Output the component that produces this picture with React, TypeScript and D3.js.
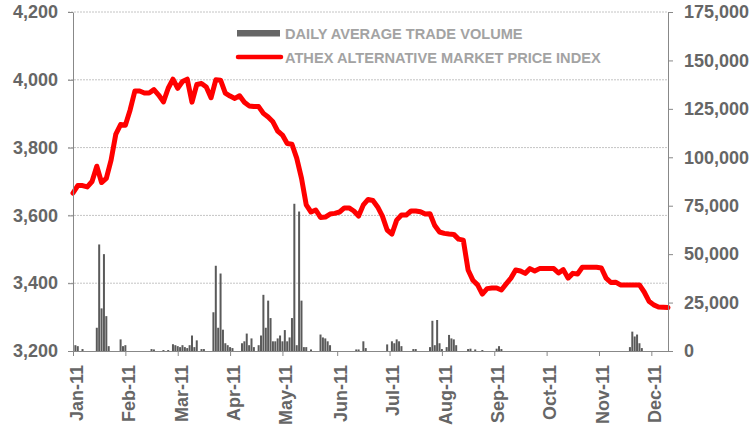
import React, { useRef, useEffect } from 'react';
import * as d3 from 'd3';

// tick labels and where each month starts (in trading days)
const months = ["Jan-11", "Feb-11", "Mar-11", "Apr-11", "May-11", "Jun-11", "Jul-11", "Aug-11", "Sep-11", "Oct-11", "Nov-11", "Dec-11"];
const monthStartDay = [0, 22, 44, 66, 88, 111, 133, 155, 177, 199, 221, 243];
const lastDay = 250;

const leftTicks = [3200, 3400, 3600, 3800, 4000, 4200];
const rightTicks = [0, 25000, 50000, 75000, 100000, 125000, 150000, 175000];

// price index, one reading every 2 trading days
const priceStep = 2;
const priceValues = [
  3666, 3688, 3688, 3684, 3700, 3745, 3697, 3709, 3763, 3840,
  3868, 3866, 3911, 3967, 3967, 3961, 3961, 3971, 3955, 3935,
  3975, 4002, 3975, 3995, 4002, 3934, 3986, 3989, 3979, 3947,
  4000, 3999, 3961, 3952, 3945, 3953, 3934, 3923, 3921, 3921,
  3901, 3890, 3876, 3849, 3837, 3812, 3810, 3769, 3710, 3631,
  3610, 3616, 3594, 3595, 3604, 3606, 3610, 3622, 3622, 3613,
  3598, 3631, 3647, 3644, 3625, 3598, 3557, 3545, 3586, 3601,
  3601, 3613, 3613, 3611, 3604, 3605, 3570, 3551, 3547, 3545,
  3544, 3530, 3527, 3439, 3409, 3395, 3368, 3384, 3386, 3386,
  3380, 3398, 3415, 3439, 3436, 3429, 3443, 3436, 3443, 3443,
  3443, 3443, 3430, 3440, 3415, 3429, 3427, 3447, 3447, 3447,
  3447, 3445, 3415, 3402, 3403, 3395, 3395, 3395, 3395, 3395,
  3374, 3347, 3336, 3330, 3329, 3328
];

// daily volume, only the days that traded something visible
const volDays = [
  1, 2, 4, 10, 11, 12, 13, 14, 15, 20, 21, 22, 33, 34, 38, 40,
  42, 43, 44, 45, 46, 47, 48, 49, 50, 51, 52, 54, 55,
  59, 60, 61, 62, 63, 64, 65, 66, 67,
  71, 72, 73, 74, 75, 76, 78, 79, 80, 81, 82, 83, 84, 85, 86, 87, 88, 89, 90, 91,
  92, 93, 94, 95, 96, 97, 98, 100,
  104, 105, 106, 107, 108, 119, 120, 122, 123,
  132, 134, 135, 136, 137, 138, 143, 144,
  150, 151, 152, 153, 154, 155, 157, 158, 159, 160, 161,
  166, 167, 169, 172, 178, 179, 180,
  234, 235, 236, 237, 238, 239
];
const volValues = [
  3000, 2500, 1000, 12000, 55000, 22000, 50000, 18000, 2500, 6000, 2500, 3000, 1000, 800, 500, 500,
  3500, 3000, 2500, 2000, 3000, 2000, 1500, 3000, 8000, 2000, 5500, 1000, 1000,
  20000, 44000, 12000, 40000, 11000, 4000, 3000, 2000, 1500,
  4000, 5000, 9000, 3000, 6500, 2000, 3000, 8000, 29000, 12000, 26000, 17000, 5000, 5000, 6500, 8000, 5000, 10800, 5000, 7000,
  17000, 76000, 3000, 72000, 26000, 2000, 2000, 800,
  8500, 7000, 6500, 5000, 3000, 800, 800, 5000, 1500,
  3400, 5000, 4000, 6000, 5000, 2500, 1000, 1000,
  2000, 15600, 3000, 16000, 4000, 1000, 2000, 8300, 6500, 6000, 3000,
  1000, 1200, 800, 500, 1200, 2500, 1000,
  2000, 10000, 7500, 8500, 4000, 1500
];

const legendLabels = ["DAILY AVERAGE TRADE VOLUME", "ATHEX ALTERNATIVE MARKET PRICE INDEX"];

function App() {
  const svgRef = useRef(null);

  useEffect(() => {
    const svg = d3.select(svgRef.current);
    svg.selectAll('*').remove();

    const left = 73, right = 668, top = 12, bottom = 351;
    const axisColor = '#888';
    const font = 'Liberation Sans, Arial, sans-serif';

    const x = d3.scaleLinear().domain([0, lastDay]).range([left, right]);
    const yL = d3.scaleLinear().domain([3200, 4200]).range([bottom, top]);
    const yR = d3.scaleLinear().domain([0, 175000]).range([bottom, top]);

    // grid
    svg.append('g')
      .selectAll('line')
      .data(leftTicks.slice(1))
      .join('line')
        .attr('x1', left - 5).attr('x2', right)
        .attr('y1', d => yL(d)).attr('y2', d => yL(d))
        .attr('stroke', '#c4c4c4')
        .attr('stroke-dasharray', '2,1');

    // volume bars
    const vol = volDays.map((d, i) => ({ day: d, value: volValues[i] }));
    svg.append('g')
      .selectAll('rect')
      .data(vol)
      .join('rect')
        .attr('x', d => x(d.day) - 1)
        .attr('width', 2)
        .attr('y', d => yR(d.value))
        .attr('height', d => bottom - yR(d.value))
        .attr('fill', '#5a5a5a');

    // price line
    const price = priceValues.map((v, i) => ({ day: i * priceStep, value: v }));
    const line = d3.line().x(d => x(d.day)).y(d => yL(d.value));
    svg.append('path')
      .datum(price)
      .attr('d', line)
      .attr('fill', 'none')
      .attr('stroke', '#ff0000')
      .attr('stroke-width', 5)
      .attr('stroke-linejoin', 'round')
      .attr('stroke-linecap', 'round');

    // axes
    const styleAxis = g => {
      g.selectAll('.domain').attr('stroke', axisColor);
      g.selectAll('.tick line').attr('stroke', axisColor);
      g.selectAll('.tick text')
        .attr('fill', '#666')
        .style('font-family', font)
        .style('font-weight', 'bold')
        .style('font-size', '18px');
    };

    svg.append('g')
      .attr('transform', `translate(${left},0)`)
      .call(d3.axisLeft(yL).tickValues(leftTicks).tickSize(5).tickSizeOuter(0).tickPadding(10).tickFormat(d3.format(',')))
      .call(styleAxis);

    svg.append('g')
      .attr('transform', `translate(${right},0)`)
      .call(d3.axisRight(yR).tickValues(rightTicks).tickSize(5).tickSizeOuter(0).tickPadding(11).tickFormat(d3.format(',')))
      .call(styleAxis);

    const xAxis = svg.append('g')
      .attr('transform', `translate(0,${bottom})`)
      .call(d3.axisBottom(x).tickValues(monthStartDay).tickSize(5).tickSizeOuter(0).tickFormat((d, i) => months[i]))
      .call(styleAxis);
    xAxis.selectAll('.tick text')
      .attr('transform', 'rotate(-90)')
      .attr('x', -14)
      .attr('y', 3)
      .attr('dy', '0.35em')
      .style('text-anchor', 'end');

    // legend
    const legend = svg.append('g');
    legend.append('rect')
      .attr('x', 237).attr('y', 30).attr('width', 43).attr('height', 6.5)
      .attr('fill', '#666');
    legend.append('line')
      .attr('x1', 238).attr('x2', 281).attr('y1', 57).attr('y2', 57)
      .attr('stroke', '#ff0000').attr('stroke-width', 4.5).attr('stroke-linecap', 'round');
    legend.selectAll('text')
      .data(legendLabels)
      .join('text')
        .text(d => d)
        .attr('x', 285)
        .attr('y', (d, i) => 38.5 + i * 24.5)
        .attr('fill', '#a3a3a3')
        .style('font-family', font)
        .style('font-weight', 'bold')
        .style('font-size', '14.6px');
  }, []);

  return (
    <svg ref={svgRef} width={752} height={428}
      style={{ position: 'absolute', left: 0, top: 0, background: '#fff' }} />
  );
}

export default App;
